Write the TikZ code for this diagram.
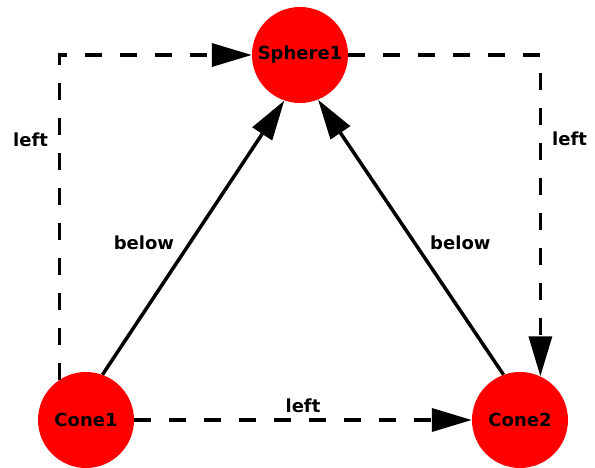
\documentclass[tikz,border=0pt]{standalone}
\usepackage{fontspec}
\setmainfont{DejaVu Sans}
\usetikzlibrary{arrows.meta, positioning}

\begin{document}
\begin{tikzpicture}[x=1pt, y=1pt, every node/.style={font=\fontsize{18}{18}\selectfont\bfseries, inner sep=2pt},
    obj/.style={circle, fill=red, minimum size=96pt, inner sep=0pt},
    rel/.style={line width=3.5pt, -{Triangle[length=40pt, width=23pt]}},
    side/.style={rel, dash pattern=on 17pt off 18pt}]
    \useasboundingbox (0,0) rectangle (595,468);
    % Objects
    \node[obj] (Sphere1) at (300,413) {Sphere1};
    \node[obj] (Cone1) at (86,48) {Cone1};
    \node[obj] (Cone2) at (520,48) {Cone2};
    % below relations
    \draw[rel] (Cone1.70) -- (Sphere1.251) node[pos=0.48, left=12pt] {below};
    \draw[rel] (Cone2.110) -- (Sphere1.292) node[pos=0.48, right=12pt] {below};
    % left relations
    \draw[side] (Cone1.123) |- (Sphere1.west) node[pos=0.37, left=8pt] {left};
    \draw[side] (Sphere1.east) -| (Cone2.65) node[pos=0.63, right=8pt] {left};
    \draw[side] (Cone1.east) -- (Cone2.west) node[midway, above=3pt] {left};
\end{tikzpicture}
\end{document}
